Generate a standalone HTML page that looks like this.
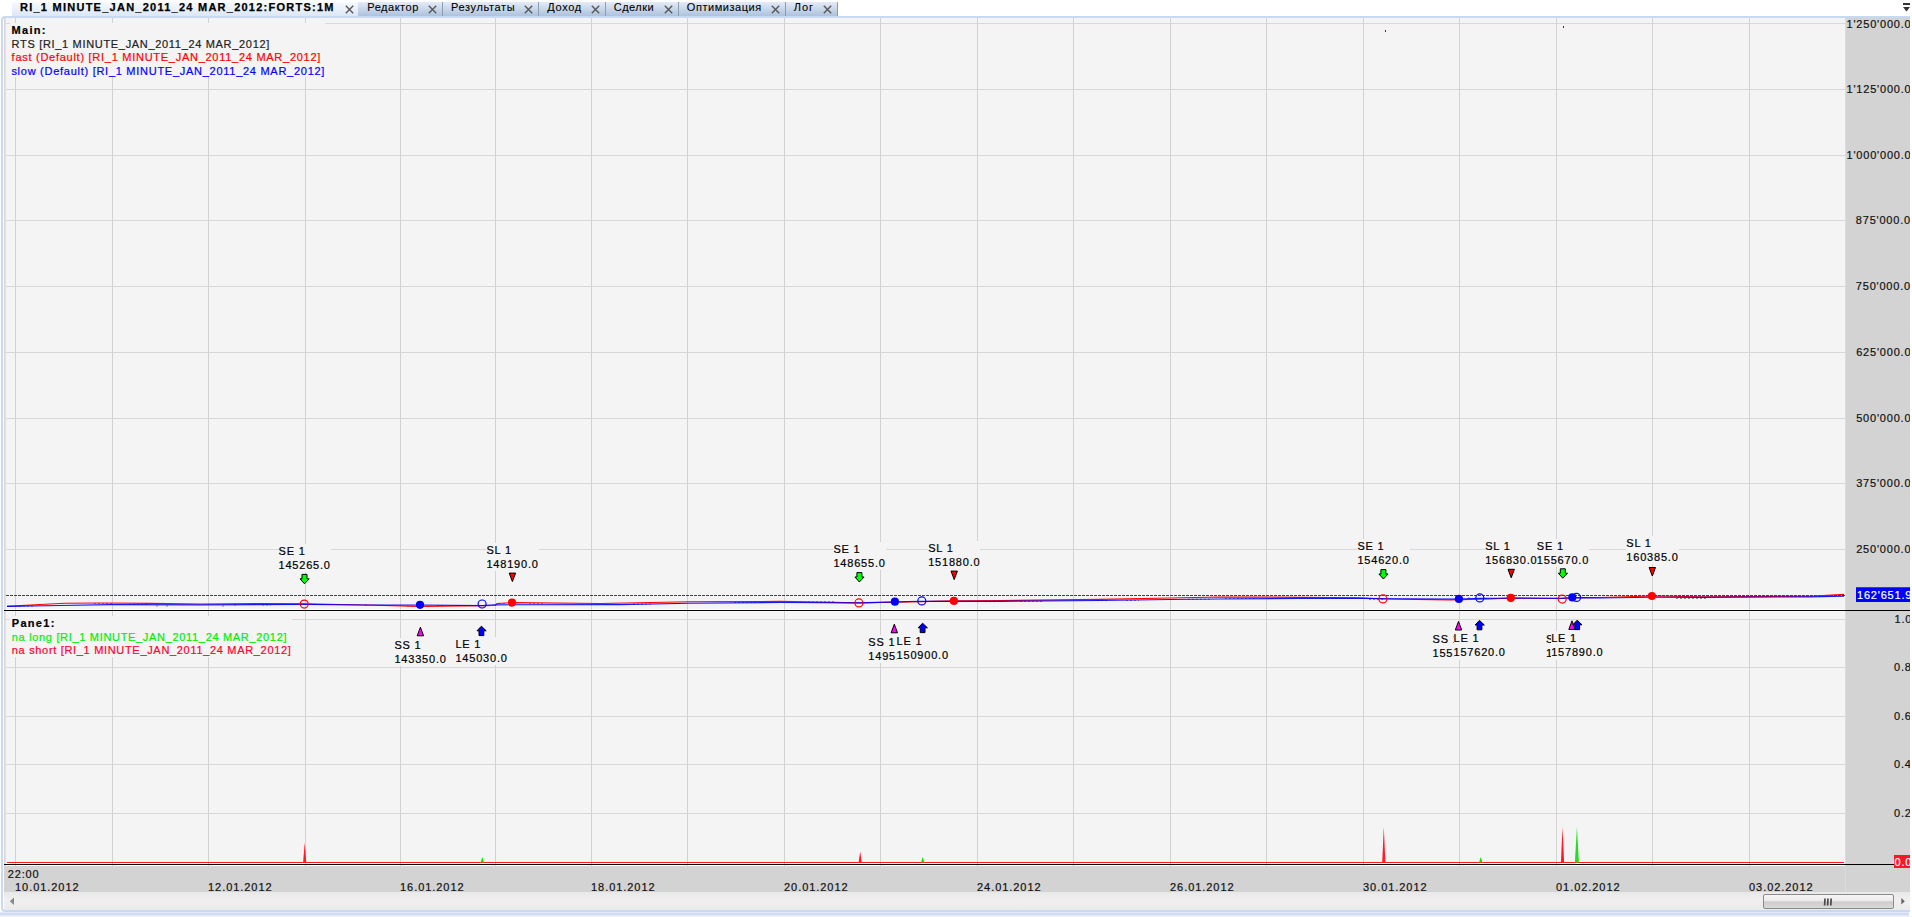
<!DOCTYPE html>
<html><head><meta charset="utf-8"><style>
*{margin:0;padding:0;box-sizing:border-box}
html,body{width:1912px;height:917px;overflow:hidden;background:#fff}
body{position:relative;font-family:"Liberation Sans", sans-serif;font-size:11px;color:#000;-webkit-text-stroke:0.2px currentColor}
.x{position:absolute}
.a{position:absolute;white-space:nowrap;line-height:13px}
.t{letter-spacing:0.68px}
.n{letter-spacing:0.8px}
.lb{position:absolute;white-space:nowrap;line-height:14px;background:#f4f4f4;letter-spacing:0.8px;color:#000;padding:0}
.tab{position:absolute;top:2px;height:14px}
.tt{position:absolute;top:1px;line-height:13px;letter-spacing:0.6px;color:#000;white-space:nowrap;-webkit-text-stroke:0.1px #000}
.ya{position:absolute;left:1846px;width:64px;overflow:hidden}
.yl{position:absolute;white-space:nowrap;line-height:13px;letter-spacing:0.8px;color:#111}
</style></head><body>

<div class="tab" style="left:12px;width:346px;background:linear-gradient(#f7fafe,#dce7f7)"></div>
<div class="tab" style="left:358px;width:480px;background:linear-gradient(#e4ebf6,#adc2dd)"></div>
<div class="tt" style="left:20px;font-weight:bold;letter-spacing:1.25px;-webkit-text-stroke:0.25px #000">RI_1 MINUTE_JAN_2011_24 MAR_2012:FORTS:1M</div>
<svg class="x" style="left:344.5px;top:4.5px" width="9" height="9" viewBox="0 0 9 9"><path d="M0.8 0.8L8.2 8.2M8.2 0.8L0.8 8.2" stroke="#585858" stroke-width="1.4" fill="none"/></svg>
<div class="tt" style="left:367.3px;letter-spacing:0.52px">Редактор</div>
<svg class="x" style="left:428px;top:4.5px" width="9" height="9" viewBox="0 0 9 9"><path d="M0.8 0.8L8.2 8.2M8.2 0.8L0.8 8.2" stroke="#585858" stroke-width="1.4" fill="none"/></svg>
<div class="x" style="left:442px;top:2px;width:1px;height:14px;background:#8e9cb0"></div>
<div class="tt" style="left:451px;letter-spacing:0.64px">Результаты</div>
<svg class="x" style="left:524.3px;top:4.5px" width="9" height="9" viewBox="0 0 9 9"><path d="M0.8 0.8L8.2 8.2M8.2 0.8L0.8 8.2" stroke="#585858" stroke-width="1.4" fill="none"/></svg>
<div class="x" style="left:538px;top:2px;width:1px;height:14px;background:#8e9cb0"></div>
<div class="tt" style="left:547.3px;letter-spacing:0.65px">Доход</div>
<svg class="x" style="left:590.6px;top:4.5px" width="9" height="9" viewBox="0 0 9 9"><path d="M0.8 0.8L8.2 8.2M8.2 0.8L0.8 8.2" stroke="#585858" stroke-width="1.4" fill="none"/></svg>
<div class="x" style="left:605px;top:2px;width:1px;height:14px;background:#8e9cb0"></div>
<div class="tt" style="left:613.8px;letter-spacing:0.45px">Сделки</div>
<svg class="x" style="left:664px;top:4.5px" width="9" height="9" viewBox="0 0 9 9"><path d="M0.8 0.8L8.2 8.2M8.2 0.8L0.8 8.2" stroke="#585858" stroke-width="1.4" fill="none"/></svg>
<div class="x" style="left:678px;top:2px;width:1px;height:14px;background:#8e9cb0"></div>
<div class="tt" style="left:686.8px;letter-spacing:0.55px">Оптимизация</div>
<svg class="x" style="left:771.2px;top:4.5px" width="9" height="9" viewBox="0 0 9 9"><path d="M0.8 0.8L8.2 8.2M8.2 0.8L0.8 8.2" stroke="#585858" stroke-width="1.4" fill="none"/></svg>
<div class="x" style="left:785px;top:2px;width:1px;height:14px;background:#8e9cb0"></div>
<div class="tt" style="left:793.8px;letter-spacing:0.95px">Лог</div>
<svg class="x" style="left:822.5px;top:4.5px" width="9" height="9" viewBox="0 0 9 9"><path d="M0.8 0.8L8.2 8.2M8.2 0.8L0.8 8.2" stroke="#585858" stroke-width="1.4" fill="none"/></svg>
<div class="x" style="left:837px;top:2px;width:1px;height:14px;background:#8e9cb0"></div>
<div class="x" style="left:1903px;top:3px;width:7px;height:2px;background:#333"></div>
<svg class="x" style="left:1903px;top:7px" width="7" height="5"><path d="M0 0H7L3.5 4.5Z" fill="#333"/></svg>
<div class="x" style="left:1px;top:16px;width:1909px;height:896px;border:2px solid #c8d9f2;border-right:0;border-radius:4px 0 0 4px;background:#fff"></div>
<div class="x" style="left:0;top:912px;width:1909px;height:1px;background:#e3eaf7"></div>
<div class="x" style="left:0;top:913px;width:1909px;height:2px;background:#cfdcf3"></div>
<div class="x" style="left:0;top:915px;width:1909px;height:1px;background:#e2e9f5"></div>
<div class="x" style="left:0;top:916px;width:1912px;height:1px;background:#f4efef"></div>
<div class="x" style="left:4px;top:18px;width:2px;height:848px;background:linear-gradient(90deg,#d2d2d2,#e6e6e6)"></div>
<div class="x" style="left:6px;top:18px;width:1839px;height:848px;background:#f4f4f4"></div>
<div class="x" style="left:1845px;top:18px;width:65px;height:874px;background:#d3d3d3;border-left:1px solid #dcdcdc"></div>
<div class="x" style="left:4px;top:866px;width:1841px;height:26px;background:#d3d3d3"></div>
<div class="x" style="left:4px;top:892px;width:1906px;height:18px;background:linear-gradient(#e8e8e8,#f0f0f0 45%,#ebebeb)"></div>
<svg class="x" style="left:0;top:0" width="1912" height="917" viewBox="0 0 1912 917" shape-rendering="auto">
<rect x="6" y="609" width="1839" height="1" fill="#fdfdfd"/><rect x="6" y="611" width="1839" height="1" fill="#fafafa"/><rect x="6" y="863" width="1839" height="1" fill="#fdfdfd"/><rect x="6" y="865" width="1839" height="1" fill="#fbfbfb"/>
<path d="M6 23.5H1845 M6 89.5H1845 M6 155.5H1845 M6 220.5H1845 M6 286.5H1845 M6 352.5H1845 M6 418.5H1845 M6 483.5H1845 M6 549.5H1845 M6 619.5H1845 M6 667.5H1845 M6 716.5H1845 M6 764.5H1845 M6 813.5H1845" stroke="#d8d8d8" stroke-width="1" fill="none" shape-rendering="crispEdges"/>
<path d="M15.5 18V866 M112.5 18V866 M208.5 18V866 M305.5 18V866 M400.5 18V866 M495.5 18V866 M591.5 18V866 M687.5 18V866 M784.5 18V866 M880.5 18V866 M977.5 18V866 M1073.5 18V866 M1170.5 18V866 M1266.5 18V866 M1363.5 18V866 M1459.5 18V866 M1556.5 18V866 M1652.5 18V866 M1749.5 18V866" stroke="#d2d2d2" stroke-width="1" fill="none" shape-rendering="crispEdges"/>
</svg>
<div class="x" style="left:10px;top:23px;width:315px;height:54px;background:#f4f4f4"></div>
<div class="x" style="left:10px;top:616px;width:282px;height:41px;background:#f4f4f4"></div>
<svg class="x" style="left:0;top:0" width="1912" height="917" viewBox="0 0 1912 917">
<path d="M6 595.5H1845" stroke="#404040" stroke-width="1" stroke-dasharray="3 1" shape-rendering="crispEdges"/>
<path d="M19 606h2 M23 606h2 M27 606h2 M31 606h2 M94 603.5h2 M98 603.5h2 M102 603.5h2 M106 603.5h2 M110 603.5h2 M129 604.5h2 M133 604.5h2 M137 604.5h2 M141 604.5h2 M145 604.5h2 M156 606h2 M166 606h2 M222 606h2 M234 605h2 M262 605h2 M266 605h2 M270 605h1 M365 605h2 M407 606.5h2 M411 606.5h2 M415 606.5h1 M437 605.7h2 M441 605.7h2 M499 603.5h2 M503 603.5h2 M529 603.7h2 M533 603.7h2 M537 603.7h2 M541 603.7h2 M633 604h2 M637 604h2 M641 604h2 M645 604h2 M649 604h2 M734 602.5h2 M738 602.5h2 M742 602.5h2 M746 602.5h2 M750 602.5h2 M754 602.5h1 M800 601.6h2 M804 601.6h2 M808 601.6h2 M812 601.6h2 M816 601.6h2 M820 601.6h2 M824 601.6h2 M828 601.6h2 M832 601.6h2 M977 601.6h2 M985 601.6h2 M989 601.6h2 M993 601.6h2 M1020 601.5h2 M1024 601.5h2 M1028 601.5h2 M1032 601.5h2 M1036 601.5h2 M1040 601.5h2 M1097 600.5h2 M1101 600.5h2 M1105 600.5h2 M1126 600.5h2 M1130 600.5h2 M1134 600.5h2 M1138 600.5h1 M1188 599.3h2 M1192 599.3h2 M1196 599.3h2 M1200 599.3h2 M1204 599.3h2 M1208 599.3h2 M1225 598.3h2 M1229 598.3h2 M1233 598.3h2 M1237 598.3h2 M1241 598.3h2 M1245 598.3h2 M1249 598.3h2 M1253 598.3h2 M1299 598.5h2 M1322 598.5h2 M1335 598.3h2 M1339 598.3h2 M1343 598.3h2 M1347 598.3h2 M1351 598.3h2 M1369 599.5h2 M1373 599.5h2 M1377 599.5h2 M1381 599.5h2 M1468 598h2 M1518 598.5h2 M1522 598.5h1 M1676 598.5h2 M1680 598.5h2 M1684 598.5h2 M1688 598.5h2 M1692 598.5h2 M1696 598.5h2 M1700 598.5h2 M1704 598.5h2" stroke="#333" stroke-width="1" opacity="0.55" fill="none"/>
<path d="M7 606.4 L40 604.5 L65 603.3 L100 603 L150 603.3 L200 604 L260 603.5 L304 603.9 L365 605 L420 606.4 L480 605.8 L495 605.5 L497 603.5 L512 602.6 L600 603.5 L690 601.8 L780 601.4 L859 602.9 L895 602.2 L922 601.8 L930 601.4 L954 600.9 L1000 600.6 L1100 599.4 L1170 598 L1220 597 L1300 597.3 L1360 597.8 L1383 599 L1450 599.8 L1490 599 L1511 597.9 L1560 598.5 L1577 597.6 L1600 597.5 L1652 596 L1700 596.7 L1750 596.5 L1810 596.3 L1844 594.4" stroke="#ff0000" stroke-width="1.15" fill="none"/>
<path d="M7 606.4 L60 605.5 L110 604.6 L200 604.8 L304 604.4 L365 605 L420 605 L482 605.6 L495 604.8 L620 604.6 L690 603.2 L780 602.5 L859 602.9 L895 601.9 L922 601.2 L1000 601.3 L1100 600.5 L1170 599.5 L1220 599 L1300 598.4 L1360 598.3 L1400 598.8 L1459 599 L1480 598.3 L1511 598.2 L1560 598.3 L1577 597.6 L1600 598 L1652 597.3 L1700 597.4 L1750 597.1 L1810 596.9 L1844 596.1" stroke="#0000ff" stroke-width="1.15" fill="none" opacity="0.9"/>
<circle cx="304.2" cy="604.1" r="4" fill="none" stroke="#ff0000" stroke-width="1.2"/>
<circle cx="858.9" cy="602.9" r="4" fill="none" stroke="#ff0000" stroke-width="1.2"/>
<circle cx="1382.9" cy="598.9" r="4" fill="none" stroke="#ff0000" stroke-width="1.2"/>
<circle cx="1562.2" cy="599.1" r="4" fill="none" stroke="#ff0000" stroke-width="1.2"/>
<circle cx="420" cy="604.8" r="4.1" fill="#0000ff"/>
<circle cx="894.9" cy="601.7" r="4.1" fill="#0000ff"/>
<circle cx="1458.9" cy="598.9" r="4.1" fill="#0000ff"/>
<circle cx="1572.3" cy="597.4" r="4.1" fill="#0000ff"/>
<circle cx="482.1" cy="604" r="4" fill="none" stroke="#0000ff" stroke-width="1.2"/>
<circle cx="921.8" cy="600.9" r="4" fill="none" stroke="#0000ff" stroke-width="1.2"/>
<circle cx="1479.8" cy="597.9" r="4" fill="none" stroke="#0000ff" stroke-width="1.2"/>
<circle cx="1576.5" cy="597.4" r="4" fill="none" stroke="#0000ff" stroke-width="1.2"/>
<circle cx="512" cy="602.6" r="4.1" fill="#ff0000"/>
<circle cx="953.9" cy="600.9" r="4.1" fill="#ff0000"/>
<circle cx="1510.8" cy="597.9" r="4.1" fill="#ff0000"/>
<circle cx="1651.9" cy="596" r="4.1" fill="#ff0000"/>
<rect x="1385" y="30" width="1" height="2" fill="#a00"/><rect x="1563" y="26" width="1" height="2" fill="#a00"/>
<rect x="4" y="610" width="1906" height="1" fill="#000"/>
<rect x="7" y="862" width="1837" height="1" fill="#ff1a1a"/>
<rect x="4" y="864" width="1890" height="1" fill="#000"/>
<path d="M303.09999999999997 862.5L304.7 842.6L306.3 862.5Z" fill="#ff1a2a"/>
<path d="M858.6 862.5L860.2 851.4L861.8000000000001 862.5Z" fill="#ff1a2a"/>
<path d="M1382.2 862.5L1383.8 827L1385.3999999999999 862.5Z" fill="#ff1a2a"/>
<path d="M1560.9 862.5L1562.5 827L1564.1 862.5Z" fill="#ff1a2a"/>
<path d="M480.7 862.5L482.3 857L483.90000000000003 862.5Z" fill="#00e000"/>
<path d="M921.1 862.5L922.7 857L924.3000000000001 862.5Z" fill="#00e000"/>
<path d="M1479.1000000000001 862.5L1480.7 857L1482.3 862.5Z" fill="#00e000"/>
<path d="M1574.9 862.5L1576.9 827L1578.9 862.5Z" fill="#22dd22"/>
<path d="M302.0 574.4H307.0V578.8H309.2L304.5 583.8L300.0 578.8H302.0Z" fill="#00ff00" stroke="#000" stroke-width="1" stroke-linejoin="miter"/>
<path d="M509.2 573.1H515.6L512.4 581.6Z" fill="#ff0000" stroke="#000" stroke-width="1"/>
<path d="M856.9 572.6H861.9V577.0H864.1L859.4 582.0L854.9 577.0H856.9Z" fill="#00ff00" stroke="#000" stroke-width="1" stroke-linejoin="miter"/>
<path d="M951.0 571.1H957.4000000000001L954.2 579.6Z" fill="#ff0000" stroke="#000" stroke-width="1"/>
<path d="M1380.9 569.6H1385.9V574.0H1388.1000000000001L1383.4 579.0L1378.9 574.0H1380.9Z" fill="#00ff00" stroke="#000" stroke-width="1" stroke-linejoin="miter"/>
<path d="M1508.0 569.3H1514.4L1511.2 577.8Z" fill="#ff0000" stroke="#000" stroke-width="1"/>
<path d="M1560.3 568.8H1565.3V573.1999999999999H1567.5L1562.8 578.1999999999999L1558.3 573.1999999999999H1560.3Z" fill="#00ff00" stroke="#000" stroke-width="1" stroke-linejoin="miter"/>
<path d="M1649.1 567.5H1655.5L1652.3 576Z" fill="#ff0000" stroke="#000" stroke-width="1"/>
<path d="M417.2 635.8000000000001H423.59999999999997L420.4 627.2Z" fill="#ff00ff" stroke="#000" stroke-width="1"/>
<path d="M479.0 635.6H483.79999999999995V630.8000000000001H486.2L481.4 626.2L477.0 630.8000000000001H479.0Z" fill="#0000ff" stroke="#000" stroke-width="1" stroke-linejoin="miter"/>
<path d="M891.0999999999999 632.8000000000001H897.5L894.3 624.2Z" fill="#ff00ff" stroke="#000" stroke-width="1"/>
<path d="M920.2 632.6H925.0V627.8000000000001H927.4L922.6 623.2L918.2 627.8000000000001H920.2Z" fill="#0000ff" stroke="#000" stroke-width="1" stroke-linejoin="miter"/>
<path d="M1455.3 630.0H1461.7L1458.5 621.4Z" fill="#ff00ff" stroke="#000" stroke-width="1"/>
<path d="M1477.1 629.8H1481.9V625.0H1484.3L1479.5 620.4L1475.1 625.0H1477.1Z" fill="#0000ff" stroke="#000" stroke-width="1" stroke-linejoin="miter"/>
<path d="M1568.8 629.4H1575.2L1572.0 620.8Z" fill="#ff00ff" stroke="#000" stroke-width="1"/>
<path d="M1574.8 629.6H1579.6000000000001V624.8000000000001H1582.0L1577.2 620.2L1572.8 624.8000000000001H1574.8Z" fill="#0000ff" stroke="#000" stroke-width="1" stroke-linejoin="miter"/>
</svg>
<div class="lb" style="left:278.5px;top:544.0px">SE 1<br>145265.0</div>
<div class="lb" style="left:486.4px;top:543.0px">SL 1<br>148190.0</div>
<div class="lb" style="left:833.4px;top:542.0px">SE 1<br>148655.0</div>
<div class="lb" style="left:928.2px;top:541.0px">SL 1<br>151880.0</div>
<div class="lb" style="left:1357.4px;top:539.0px">SE 1<br>154620.0</div>
<div class="lb" style="left:1485.2px;top:539.0px">SL 1<br>156830.0</div>
<div class="lb" style="left:1536.8px;top:539.0px">SE 1<br>155670.0</div>
<div class="lb" style="left:1626.3px;top:536.0px">SL 1<br>160385.0</div>
<div class="lb" style="left:394.4px;top:638.0px">SS 1<br>143350.0</div>
<div class="lb" style="left:455.4px;top:637.0px">LE 1<br>145030.0</div>
<div class="lb" style="left:868.3px;top:635.0px">SS 1<br>149515.0</div>
<div class="lb" style="left:896.6px;top:634.0px">LE 1<br>150900.0</div>
<div class="lb" style="left:1432.5px;top:632.0px">SS 1<br>155195.0</div>
<div class="lb" style="left:1453.5px;top:631.0px">LE 1<br>157620.0</div>
<div class="lb" style="left:1546.0px;top:632.0px">SS 1<br>155520.0</div>
<div class="lb" style="left:1551.2px;top:631.0px">LE 1<br>157890.0</div>
<div class="a " style="left:11.6px;top:24.00px;font-weight:bold;letter-spacing:1.3px">Main:</div>
<div class="a t" style="left:11.6px;top:38.00px;color:#222">RTS [RI_1 MINUTE_JAN_2011_24 MAR_2012]</div>
<div class="a t" style="left:11.6px;top:51.00px;color:#ff0000;letter-spacing:0.73px">fast (Default) [RI_1 MINUTE_JAN_2011_24 MAR_2012]</div>
<div class="a t" style="left:11.4px;top:65.00px;color:#0000ff;letter-spacing:0.73px">slow (Default) [RI_1 MINUTE_JAN_2011_24 MAR_2012]</div>
<div class="a " style="left:11.8px;top:617.00px;font-weight:bold;letter-spacing:1.3px">Pane1:</div>
<div class="a t" style="left:11.8px;top:631.00px;color:#00ee00">na long [RI_1 MINUTE_JAN_2011_24 MAR_2012]</div>
<div class="a t" style="left:11.8px;top:644.00px;color:#ff0030">na short [RI_1 MINUTE_JAN_2011_24 MAR_2012]</div>
<div class="ya" style="top:18px;height:848px">
<div class="yl" style="left:0.5px;top:0.00px">1'250'000.0</div>
<div class="yl" style="left:0.5px;top:65.00px">1'125'000.0</div>
<div class="yl" style="left:0.5px;top:131.00px">1'000'000.0</div>
<div class="yl" style="left:9.8px;top:196.00px">875'000.0</div>
<div class="yl" style="left:9.8px;top:262.00px">750'000.0</div>
<div class="yl" style="left:10.2px;top:328.00px">625'000.0</div>
<div class="yl" style="left:10.2px;top:394.00px">500'000.0</div>
<div class="yl" style="left:10.2px;top:459.00px">375'000.0</div>
<div class="yl" style="left:10.2px;top:525.00px">250'000.0</div>
<div class="yl" style="left:48.5px;top:595.00px">1.0</div>
<div class="yl" style="left:48px;top:643.00px">0.8</div>
<div class="yl" style="left:48px;top:692.00px">0.6</div>
<div class="yl" style="left:48px;top:740.00px">0.4</div>
<div class="yl" style="left:48px;top:789.00px">0.2</div>
<div class="x" style="left:10px;top:569px;width:54px;height:1px;background:#ff0000"></div>
<div class="x" style="left:10px;top:570px;width:54px;height:14px;background:#0000ff"></div>
<div class="yl" style="left:11px;top:571.00px;color:#fff">162'651.9</div>
</div>
<div class="ya" style="top:850px;height:20px">
<div class="x" style="left:48px;top:5px;width:16px;height:13px;background:#f5182a"></div>
<div class="yl" style="left:48.5px;top:6.00px;color:#fff">0.00</div>
</div>
<div class="a n" style="left:7.8px;top:868.00px;color:#111">22:00</div>
<div class="a n" style="left:15px;top:881.00px;color:#111;letter-spacing:0.95px">10.01.2012</div>
<div class="a n" style="left:208px;top:881.00px;color:#111;letter-spacing:0.95px">12.01.2012</div>
<div class="a n" style="left:400px;top:881.00px;color:#111;letter-spacing:0.95px">16.01.2012</div>
<div class="a n" style="left:591px;top:881.00px;color:#111;letter-spacing:0.95px">18.01.2012</div>
<div class="a n" style="left:784px;top:881.00px;color:#111;letter-spacing:0.95px">20.01.2012</div>
<div class="a n" style="left:977px;top:881.00px;color:#111;letter-spacing:0.95px">24.01.2012</div>
<div class="a n" style="left:1170px;top:881.00px;color:#111;letter-spacing:0.95px">26.01.2012</div>
<div class="a n" style="left:1363px;top:881.00px;color:#111;letter-spacing:0.95px">30.01.2012</div>
<div class="a n" style="left:1556px;top:881.00px;color:#111;letter-spacing:0.95px">01.02.2012</div>
<div class="a n" style="left:1749px;top:881.00px;color:#111;letter-spacing:0.95px">03.02.2012</div>
<svg class="x" style="left:9px;top:897px" width="6" height="9"><path d="M5 0.5V8L0.8 4.2Z" fill="#8a8a8a"/></svg>
<svg class="x" style="left:1900px;top:897px" width="6" height="9"><path d="M1.3 1V7.5L4.8 4.2Z" fill="#666"/></svg>
<div class="x" style="left:1763px;top:894px;width:131px;height:15px;border:1px solid #8a8a8a;border-radius:2px;background:linear-gradient(#f6f6f6,#ececec 45%,#cdcdcd 52%,#d9d9d9)"></div>
<svg class="x" style="left:1822px;top:898px" width="12" height="8"><path d="M3 0.5L2.6 7.5M6 0.5L5.6 7.5M9.2 0.5L8.8 7.5" stroke="#4a4a4a" stroke-width="1.7"/></svg>
</body></html>
